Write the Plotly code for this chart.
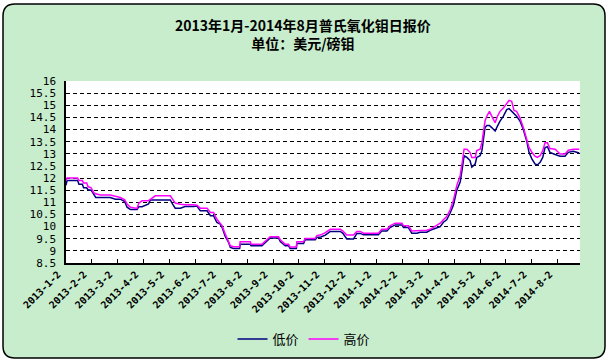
import plotly.graph_objects as go

# ---------------- data ----------------
# x position in "month index" units (0 = 2013-1-2 tick, 19 = 2014-8-2 tick)
months = [0.0, 0.04, 0.45, 0.5, 0.63, 0.68, 0.8, 0.85, 0.97, 1.07, 1.15, 1.33, 1.71, 1.91, 2.1,
          2.27, 2.36, 2.49, 2.75, 2.81, 2.94, 3.19, 3.26, 3.45, 4.03, 4.12, 4.22, 4.42, 4.6, 4.93,
          5.06, 5.19, 5.45, 5.58, 5.7, 5.83, 5.96, 6.03, 6.15, 6.28, 6.35, 6.47, 6.71, 6.73, 7.12,
          7.15, 7.57, 7.89, 8.21, 8.28, 8.47, 8.6, 8.66, 8.9, 8.92, 9.18, 9.24, 9.63, 9.69, 9.85,
          10.02, 10.21, 10.6, 10.7, 10.85, 11.11, 11.24, 11.37, 11.49, 12.07, 12.2, 12.4, 12.52,
          12.72, 12.98, 13.04, 13.23, 13.36, 13.56, 13.68, 13.94, 14.07, 14.26, 14.46, 14.58,
          14.71, 14.84, 14.97, 15.1, 15.23, 15.32, 15.38, 15.49, 15.61, 15.68, 15.81, 15.87, 16.0,
          16.07, 16.13, 16.19, 16.26, 16.36, 16.45, 16.58, 16.67, 16.77, 16.9, 17.03, 17.12,
          17.22, 17.31, 17.41, 17.54, 17.67, 17.8, 17.89, 18.0, 18.12, 18.21, 18.32, 18.42,
          18.51, 18.6, 18.7, 18.9, 19.09, 19.28, 19.41, 19.6, 19.83]

low_price = [11.7, 11.9, 11.9, 11.75, 11.75, 11.6, 11.6, 11.52, 11.5, 11.35, 11.2, 11.2, 11.2, 11.13, 11.13,
             11.03, 10.8, 10.7, 10.7, 10.82, 10.82, 10.93, 11.1, 11.1, 11.1, 10.93, 10.76, 10.76, 10.83, 10.83,
             10.85, 10.65, 10.65, 10.45, 10.45, 10.17, 10.1, 9.97, 9.6, 9.35, 9.14, 9.1, 9.1, 9.27, 9.27,
             9.21, 9.21, 9.53, 9.53, 9.38, 9.21, 9.21, 9.1, 9.1, 9.3, 9.3, 9.46, 9.46, 9.55, 9.57,
             9.65, 9.8, 9.8, 9.72, 9.49, 9.49, 9.72, 9.72, 9.66, 9.66, 9.82, 9.82, 9.96,
             10.07, 10.07, 9.96, 9.96, 9.73, 9.73, 9.77, 9.77, 9.85, 9.93, 10.0, 10.18,
             10.28, 10.55, 10.89, 11.5, 11.84, 12.45, 12.92, 12.85, 12.72, 12.45, 12.58, 12.85, 12.92,
             13.13, 13.53, 14.08, 14.17, 14.17, 14.08, 13.94, 14.14, 14.35, 14.55, 14.82, 14.86,
             14.75, 14.66, 14.55, 14.35, 14.0, 13.53, 13.06, 12.79, 12.58, 12.54, 12.65, 12.85,
             13.26, 13.29, 13.06, 12.97, 12.9, 12.9, 13.06, 13.1, 13.03]

high_price = [11.9, 12.0, 12.0, 11.9, 11.9, 11.8, 11.8, 11.65, 11.6, 11.4, 11.35, 11.3, 11.3, 11.25, 11.2,
              11.1, 10.93, 10.8, 10.75, 10.96, 11.07, 11.07, 11.13, 11.27, 11.27, 11.13, 10.97, 10.92, 10.9, 10.9,
              10.88, 10.76, 10.76, 10.58, 10.58, 10.3, 10.15, 10.04, 9.7, 9.42, 9.21, 9.17, 9.17, 9.38, 9.38,
              9.27, 9.27, 9.58, 9.58, 9.46, 9.27, 9.27, 9.16, 9.16, 9.38, 9.38, 9.51, 9.51, 9.63, 9.66,
              9.75, 9.89, 9.89, 9.82, 9.65, 9.65, 9.8, 9.8, 9.73, 9.73, 9.89, 9.89, 10.03,
              10.14, 10.14, 10.03, 10.03, 9.82, 9.82, 9.85, 9.85, 9.89, 10.03, 10.14, 10.28,
              10.41, 10.68, 11.09, 11.7, 12.1, 12.72, 13.19, 13.19, 13.06, 12.85, 12.85, 13.13, 13.19,
              13.46, 13.87, 14.35, 14.55, 14.75, 14.55, 14.28, 14.55, 14.75, 14.89, 15.09, 15.2,
              15.16, 14.79, 14.75, 14.48, 14.08, 13.6, 13.26, 13.06, 12.9, 12.85, 12.92, 13.13,
              13.46, 13.46, 13.22, 13.19, 12.99, 12.99, 13.15, 13.19, 13.19]

tick_pos = list(range(20))
tick_labels = ["2013-1-2", "2013-2-2", "2013-3-2", "2013-4-2", "2013-5-2", "2013-6-2",
               "2013-7-2", "2013-8-2", "2013-9-2", "2013-10-2", "2013-11-2", "2013-12-2",
               "2014-1-2", "2014-2-2", "2014-3-2", "2014-4-2", "2014-5-2", "2014-6-2",
               "2014-7-2", "2014-8-2"]
y_ticks = [8.5, 9, 9.5, 10, 10.5, 11, 11.5, 12, 12.5, 13, 13.5, 14, 14.5, 15, 15.5, 16]

series_names = ["低价", "高价"]
title_lines = ["2013年1月-2014年8月普氏氧化钼日报价", "单位：美元/磅钼"]

# ---------------- layout geometry ----------------
W, H = 609, 362
ML, MR, MT, MB = 66, 29, 81, 99
PW, PH = W - ML - MR, H - MT - MB


def px2x(px):
    return (px - ML) / PW


def py2y(py):
    return (H - MB - py) / PH


def rounded_rect(x0, y0, x1, y1, r):
    X, Y = px2x, py2y
    return (f"M {X(x0 + r)},{Y(y0)} L {X(x1 - r)},{Y(y0)} Q {X(x1)},{Y(y0)} {X(x1)},{Y(y0 + r)} "
            f"L {X(x1)},{Y(y1 - r)} Q {X(x1)},{Y(y1)} {X(x1 - r)},{Y(y1)} "
            f"L {X(x0 + r)},{Y(y1)} Q {X(x0)},{Y(y1)} {X(x0)},{Y(y1 - r)} "
            f"L {X(x0)},{Y(y0 + r)} Q {X(x0)},{Y(y0)} {X(x0 + r)},{Y(y0)} Z")


fig = go.Figure()
fig.add_trace(go.Scatter(x=months, y=low_price, mode="lines", name=series_names[0],
                         line=dict(color="#000080", width=1.5)))
fig.add_trace(go.Scatter(x=months, y=high_price, mode="lines", name=series_names[1],
                         line=dict(color="#FF00FF", width=1.5)))

shapes = [
    dict(type="path", xref="paper", yref="paper", path=rounded_rect(3, 4, 605, 358, 12),
         fillcolor="#C7EDCC", line=dict(color="black", width=1.5), layer="below"),
    dict(type="rect", xref="paper", yref="paper", x0=0, x1=1, y0=0, y1=1,
         fillcolor="white", line=dict(width=0), layer="below"),
]

annotations = [
    dict(text=f"<b>{title_lines[0]}<br>{title_lines[1]}</b>", xref="paper", yref="paper",
         x=px2x(303), y=py2y(34.3), xanchor="center", yanchor="middle", showarrow=False,
         font=dict(family="Noto Sans CJK SC", size=14, color="black")),
]

fig.update_layout(
    width=W, height=H, autosize=False,
    margin=dict(l=ML, r=MR, t=MT, b=MB, autoexpand=False),
    paper_bgcolor="white", plot_bgcolor="white",
    shapes=shapes, annotations=annotations,
    showlegend=True,
    legend=dict(orientation="h", x=px2x(304), xanchor="center", y=py2y(339), yanchor="middle",
                bgcolor="rgba(0,0,0,0)", font=dict(family="Noto Sans CJK SC", size=13, color="black"),
                itemwidth=30),
    xaxis=dict(range=[0, 19.86], tickmode="array", tickvals=tick_pos,
               ticktext=[f"<b>{t}</b>" for t in tick_labels], tickangle=-45,
               ticks="inside", ticklen=4, tickcolor="black", tickwidth=1,
               showline=True, linecolor="black", linewidth=1.5, showgrid=False, zeroline=False,
               tickfont=dict(family="DejaVu Sans Mono", size=10, color="black"),
               ticklabelshift=-8, automargin=False),
    yaxis=dict(range=[8.5, 16], tickmode="array", tickvals=y_ticks,
               ticktext=[f"{v:g}" for v in y_ticks],
               ticks="", showline=True, linecolor="black", linewidth=1.5,
               showgrid=True, gridcolor="black", gridwidth=1, griddash="4px,3px", zeroline=False,
               tickfont=dict(family="DejaVu Sans Mono", size=11, color="black"),
               ticklabelstandoff=6, automargin=False),
)

fig.write_html("out.html", config={"displayModeBar": False},
               post_script="document.body.style.margin='0px';")
